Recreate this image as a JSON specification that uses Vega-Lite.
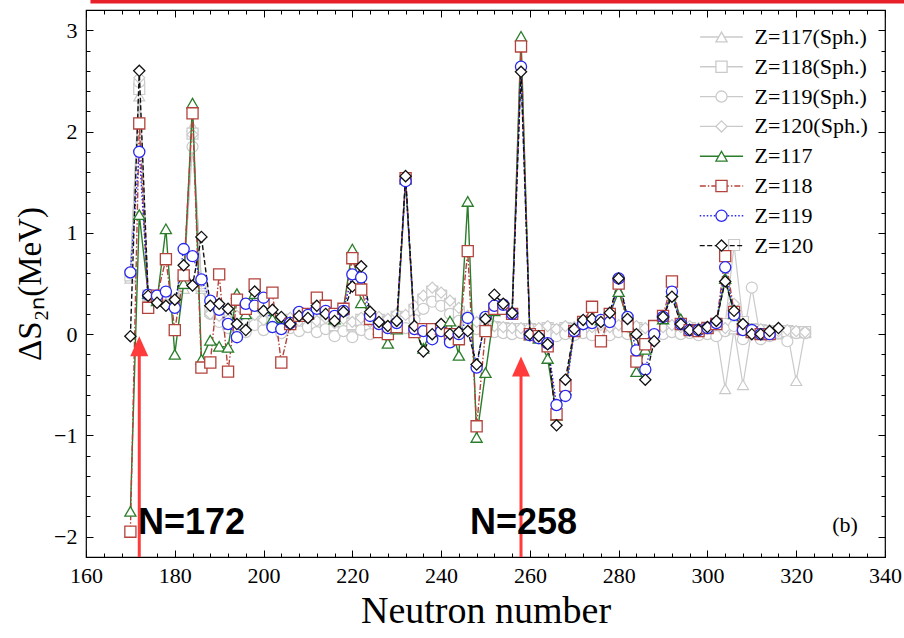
{
  "$schema": "https://vega.github.io/schema/vega-lite/v6.json",
  "width": 799,
  "height": 547,
  "autosize": {"type": "none"},
  "padding": {"left": 86, "top": 10, "right": 19, "bottom": 81},
  "background": "white",
  "config": {
    "view": {"stroke": "black", "strokeWidth": 1.2},
    "font": "Liberation Serif",
    "axis": {"domain": false, "grid": false, "tickColor": "black", "labelColor": "black", "titleColor": "black", "labelFont": "Liberation Serif", "titleFont": "Liberation Serif", "titleFontWeight": "normal", "labelFlush": false, "labelOverlap": false, "tickWidth": 1}
  },
  "datasets": {
    "series": [
      {"N":170,"s117":0.55,"s118":0.58,"s119":0.60,"s120":0.62,"z117":-1.75,"z118":-1.95,"z119":0.61,"z120":-0.02},
      {"N":172,"s117":2.35,"s118":2.42,"s119":2.49,"s120":2.53,"z117":1.18,"z118":2.08,"z119":1.80,"z120":2.60},
      {"N":174,"s117":0.40,"s118":0.38,"s119":0.37,"s120":0.36,"z117":0.40,"z118":0.26,"z119":0.39,"z120":0.38},
      {"N":176,"s117":0.35,"s118":0.33,"s119":0.32,"s120":0.31,"z117":0.33,"z118":0.38,"z119":0.38,"z120":0.31},
      {"N":178,"s117":0.36,"s118":0.34,"s119":0.32,"s120":0.30,"z117":1.04,"z118":0.74,"z119":0.42,"z120":0.28},
      {"N":180,"s117":0.30,"s118":0.30,"s119":0.29,"s120":0.30,"z117":-0.20,"z118":0.04,"z119":0.26,"z120":0.34},
      {"N":182,"s117":0.45,"s118":0.50,"s119":0.55,"s120":0.60,"z117":0.50,"z118":0.58,"z119":0.84,"z120":0.68},
      {"N":184,"s117":2.05,"s118":1.98,"s119":1.85,"s120":1.97,"z117":2.28,"z118":2.18,"z119":0.77,"z120":0.48},
      {"N":186,"s117":0.45,"s118":0.48,"s119":0.50,"s120":0.52,"z117":-0.25,"z118":-0.33,"z119":0.54,"z120":0.96},
      {"N":188,"s117":0.25,"s118":0.23,"s119":0.20,"s120":0.20,"z117":-0.06,"z118":-0.28,"z119":0.33,"z120":0.28},
      {"N":190,"s117":0.15,"s118":0.16,"s119":0.12,"s120":0.18,"z117":-0.12,"z118":0.59,"z119":0.24,"z120":0.30},
      {"N":192,"s117":0.10,"s118":0.12,"s119":0.06,"s120":0.14,"z117":-0.13,"z118":-0.37,"z119":0.10,"z120":0.25},
      {"N":194,"s117":0.14,"s118":0.16,"s119":0.08,"s120":0.18,"z117":0.40,"z118":0.34,"z119":-0.03,"z120":0.10},
      {"N":196,"s117":0.08,"s118":0.10,"s119":0.02,"s120":0.12,"z117":0.20,"z118":0.25,"z119":0.30,"z120":0.04},
      {"N":198,"s117":0.15,"s118":0.17,"s119":0.09,"s120":0.19,"z117":0.40,"z118":0.49,"z119":0.28,"z120":0.42},
      {"N":200,"s117":0.10,"s118":0.12,"s119":0.04,"s120":0.14,"z117":0.30,"z118":0.30,"z119":0.36,"z120":0.23},
      {"N":202,"s117":0.13,"s118":0.15,"s119":0.07,"s120":0.17,"z117":0.15,"z118":0.41,"z119":0.07,"z120":0.24},
      {"N":204,"s117":0.07,"s118":0.09,"s119":0.01,"s120":0.11,"z117":0.10,"z118":-0.28,"z119":0.05,"z120":0.17},
      {"N":206,"s117":0.12,"s118":0.14,"s119":0.06,"s120":0.16,"z117":0.12,"z118":0.10,"z119":0.11,"z120":0.10},
      {"N":208,"s117":0.09,"s118":0.11,"s119":0.03,"s120":0.13,"z117":0.20,"z118":0.18,"z119":0.22,"z120":0.18},
      {"N":210,"s117":0.13,"s118":0.15,"s119":0.07,"s120":0.17,"z117":0.20,"z118":0.20,"z119":0.19,"z120":0.16},
      {"N":212,"s117":0.09,"s118":0.11,"s119":0.02,"s120":0.13,"z117":0.28,"z118":0.36,"z119":0.25,"z120":0.28},
      {"N":214,"s117":0.12,"s118":0.14,"s119":0.05,"s120":0.16,"z117":0.25,"z118":0.28,"z119":0.23,"z120":0.20},
      {"N":216,"s117":0.07,"s118":0.09,"s119":-0.02,"s120":0.11,"z117":0.15,"z118":0.20,"z119":0.18,"z120":0.13},
      {"N":218,"s117":0.11,"s118":0.13,"s119":0.03,"s120":0.15,"z117":0.25,"z118":0.25,"z119":0.23,"z120":0.22},
      {"N":220,"s117":0.08,"s118":0.10,"s119":-0.03,"s120":0.12,"z117":0.84,"z118":0.75,"z119":0.59,"z120":0.47},
      {"N":222,"s117":0.12,"s118":0.14,"s119":0.04,"s120":0.16,"z117":0.31,"z118":0.44,"z119":0.56,"z120":0.67},
      {"N":224,"s117":0.08,"s118":0.10,"s119":0.00,"s120":0.12,"z117":0.20,"z118":0.15,"z119":0.18,"z120":0.22},
      {"N":226,"s117":0.12,"s118":0.14,"s119":0.05,"s120":0.17,"z117":0.05,"z118":0.02,"z119":0.10,"z120":0.12},
      {"N":228,"s117":0.09,"s118":0.12,"s119":0.03,"s120":0.15,"z117":-0.09,"z118":0.00,"z119":0.06,"z120":0.08},
      {"N":230,"s117":0.14,"s118":0.17,"s119":0.08,"s120":0.20,"z117":0.05,"z118":0.07,"z119":0.11,"z120":0.13},
      {"N":232,"s117":0.12,"s118":0.15,"s119":0.06,"s120":0.19,"z117":1.53,"z118":1.54,"z119":1.51,"z120":1.56},
      {"N":234,"s117":0.20,"s118":0.24,"s119":0.14,"s120":0.28,"z117":0.05,"z118":0.02,"z119":0.05,"z120":0.08},
      {"N":236,"s117":0.30,"s118":0.34,"s119":0.25,"s120":0.38,"z117":-0.14,"z118":0.05,"z119":0.03,"z120":-0.17},
      {"N":238,"s117":0.38,"s118":0.42,"s119":0.32,"s120":0.46,"z117":0.05,"z118":0.05,"z119":-0.05,"z120":0.00},
      {"N":240,"s117":0.32,"s118":0.38,"s119":0.28,"s120":0.41,"z117":0.05,"z118":0.05,"z119":0.03,"z120":0.10},
      {"N":242,"s117":0.24,"s118":0.30,"s119":0.20,"s120":0.33,"z117":0.13,"z118":0.00,"z119":-0.08,"z120":0.00},
      {"N":244,"s117":0.16,"s118":0.22,"s119":0.13,"s120":0.26,"z117":-0.21,"z118":-0.05,"z119":0.00,"z120":0.02},
      {"N":246,"s117":0.10,"s118":0.15,"s119":0.08,"s120":0.18,"z117":1.31,"z118":0.82,"z119":0.16,"z120":0.03},
      {"N":248,"s117":0.08,"s118":0.11,"s119":0.05,"s120":0.12,"z117":-1.02,"z118":-0.91,"z119":-0.33,"z120":-0.30},
      {"N":250,"s117":0.06,"s118":0.09,"s119":0.03,"s120":0.10,"z117":-0.38,"z118":0.03,"z119":0.17,"z120":0.15},
      {"N":252,"s117":0.05,"s118":0.07,"s119":0.02,"s120":0.08,"z117":0.23,"z118":0.25,"z119":0.28,"z120":0.39},
      {"N":254,"s117":0.04,"s118":0.06,"s119":0.01,"s120":0.07,"z117":0.25,"z118":0.25,"z119":0.29,"z120":0.30},
      {"N":256,"s117":0.03,"s118":0.05,"s119":0.00,"s120":0.06,"z117":0.22,"z118":0.20,"z119":0.20,"z120":0.21},
      {"N":258,"s117":0.04,"s118":0.05,"s119":0.01,"s120":0.06,"z117":2.94,"z118":2.84,"z119":2.64,"z120":2.59},
      {"N":260,"s117":0.03,"s118":0.05,"s119":-0.01,"s120":0.07,"z117":-0.01,"z118":0.00,"z119":-0.01,"z120":0.00},
      {"N":262,"s117":0.02,"s118":0.04,"s119":-0.02,"s120":0.06,"z117":-0.04,"z118":-0.02,"z119":-0.04,"z120":-0.02},
      {"N":264,"s117":0.04,"s118":0.06,"s119":0.00,"s120":0.08,"z117":-0.24,"z118":-0.12,"z119":-0.09,"z120":-0.10},
      {"N":266,"s117":0.02,"s118":0.04,"s119":-0.02,"s120":0.05,"z117":-0.80,"z118":-0.79,"z119":-0.70,"z120":-0.90},
      {"N":268,"s117":0.04,"s118":0.06,"s119":0.00,"s120":0.08,"z117":-0.55,"z118":-0.51,"z119":-0.61,"z120":-0.45},
      {"N":270,"s117":0.03,"s118":0.05,"s119":-0.01,"s120":0.07,"z117":0.03,"z118":0.03,"z119":0.03,"z120":0.05},
      {"N":272,"s117":0.05,"s118":0.07,"s119":0.01,"s120":0.09,"z117":0.12,"z118":0.12,"z119":0.10,"z120":0.14},
      {"N":274,"s117":0.03,"s118":0.05,"s119":-0.01,"s120":0.07,"z117":0.15,"z118":0.27,"z119":0.11,"z120":0.15},
      {"N":276,"s117":0.05,"s118":0.07,"s119":0.01,"s120":0.09,"z117":0.14,"z118":-0.07,"z119":0.14,"z120":0.12},
      {"N":278,"s117":0.03,"s118":0.05,"s119":-0.01,"s120":0.07,"z117":0.20,"z118":0.20,"z119":0.12,"z120":0.21},
      {"N":280,"s117":0.05,"s118":0.07,"s119":0.02,"s120":0.09,"z117":0.42,"z118":0.50,"z119":0.55,"z120":0.55},
      {"N":282,"s117":0.03,"s118":0.05,"s119":0.00,"s120":0.07,"z117":0.15,"z118":0.08,"z119":0.17,"z120":0.15},
      {"N":284,"s117":0.04,"s118":0.06,"s119":0.01,"s120":0.08,"z117":-0.37,"z118":-0.27,"z119":-0.16,"z120":0.00},
      {"N":286,"s117":0.02,"s118":0.04,"s119":-0.01,"s120":0.06,"z117":-0.15,"z118":-0.10,"z119":-0.35,"z120":-0.45},
      {"N":288,"s117":0.04,"s118":0.06,"s119":0.01,"s120":0.08,"z117":0.05,"z118":0.08,"z119":0.00,"z120":-0.07},
      {"N":290,"s117":0.03,"s118":0.05,"s119":0.00,"s120":0.07,"z117":0.15,"z118":0.18,"z119":0.17,"z120":0.17},
      {"N":292,"s117":0.05,"s118":0.07,"s119":0.02,"s120":0.09,"z117":0.42,"z118":0.52,"z119":0.42,"z120":0.37},
      {"N":294,"s117":0.03,"s118":0.05,"s119":0.00,"s120":0.07,"z117":0.15,"z118":0.10,"z119":0.10,"z120":0.10},
      {"N":296,"s117":0.04,"s118":0.06,"s119":0.01,"s120":0.08,"z117":0.05,"z118":0.04,"z119":0.04,"z120":0.04},
      {"N":298,"s117":0.02,"s118":0.04,"s119":-0.01,"s120":0.06,"z117":0.05,"z118":0.03,"z119":0.04,"z120":0.04},
      {"N":300,"s117":0.03,"s118":0.05,"s119":0.00,"s120":0.07,"z117":0.06,"z118":0.06,"z119":0.06,"z120":0.07},
      {"N":302,"s117":0.02,"s118":0.08,"s119":-0.02,"s120":0.10,"z117":0.12,"z118":0.10,"z119":0.11,"z120":0.13},
      {"N":304,"s117":-0.54,"s118":0.10,"s119":0.03,"s120":0.06,"z117":0.55,"z118":0.77,"z119":0.66,"z120":0.52},
      {"N":306,"s117":0.05,"s118":0.88,"s119":0.08,"s120":0.30,"z117":0.20,"z118":0.22,"z119":0.19,"z120":0.23},
      {"N":308,"s117":-0.50,"s118":0.12,"s119":-0.05,"s120":0.05,"z117":0.05,"z118":0.05,"z119":0.04,"z120":0.10},
      {"N":310,"s117":0.05,"s118":0.05,"s119":0.46,"s120":0.04,"z117":0.02,"z118":0.02,"z119":0.04,"z120":0.00},
      {"N":312,"s117":0.02,"s118":0.04,"s119":-0.05,"s120":0.05,"z117":0.00,"z118":0.00,"z119":0.00,"z120":0.00},
      {"N":314,"s117":0.01,"s118":0.03,"s119":-0.02,"s120":0.04,"z117":0.00,"z118":0.00,"z119":0.00,"z120":0.03},
      {"N":316,"s117":0.00,"s118":0.02,"s119":0.01,"s120":0.03,"z120":0.06},
      {"N":318,"s117":0.02,"s118":0.03,"s119":-0.07,"s120":0.04},
      {"N":320,"s117":-0.46,"s118":0.02,"s119":0.01,"s120":0.03},
      {"N":322,"s117":0.02,"s118":0.02,"s119":0.01,"s120":0.02}
    ],
    "arrows": [
      {"N": 172, "base": -2.2, "tip": -0.02, "neck": -0.19},
      {"N": 258, "base": -2.2, "tip": -0.22, "neck": -0.39}
    ],
    "notes": [
      {"N": 171.7, "v": -1.97, "t": "N=172"},
      {"N": 246.5, "v": -1.97, "t": "N=258"}
    ],
    "panel": [{"N": 331, "v": -1.88, "t": "(b)"}],
    "band": [{"N": 161, "N2": 350, "v": 3.285}]
  },
  "layer": [
    {
      "data": {"name": "series"},
      "transform": [
        {"fold": ["s117", "s118", "s119", "s120"], "as": ["key", "v"]},
        {"filter": {"field": "v", "valid": true}}
      ],
      "mark": {"type": "line", "strokeWidth": 1.2},
      "encoding": {
        "x": {"field": "N", "type": "quantitative", "scale": {"domain": [160, 340], "nice": false, "zero": false},
          "axis": {"orient": "bottom", "values": [160,180,200,220,240,260,280,300,320,340], "tickSize": -7, "labelPadding": 15, "labelFontSize": 22, "title": "Neutron number", "titleFontSize": 38, "titlePadding": 6}},
        "y": {"field": "v", "type": "quantitative", "scale": {"domain": [-2.2, 3.2], "nice": false, "zero": false},
          "axis": {"orient": "left", "values": [-2,-1,0,1,2,3], "tickSize": -7, "labelPadding": 16, "labelFontSize": 22, "title": "ΔS₂ₙ(MeV)", "titleFontSize": 33, "titlePadding": 6}},
        "color": {"field": "key", "type": "nominal",
          "scale": {"domain": ["s117","s118","s119","s120","z117","z118","z119","z120"], "range": ["#cacaca","#cacaca","#cacaca","#cacaca","#2a7d2a","#b4433d","#2828f0","#111111"]},
          "legend": {"orient": "none", "legendX": 624.5, "legendY": 16, "title": null, "padding": 0, "labelFont": "Liberation Serif", "labelFontSize": 22, "labelColor": "black", "rowPadding": 7.8, "symbolType": "M-3.9,0H3.9", "symbolSize": 100, "symbolStrokeWidth": 1.4, "labelOffset": 22, "labelExpr": "'Z=' + substring(datum.label, 1) + (substring(datum.label, 0, 1) == 's' ? '(Sph.)' : '')"}},
        "strokeDash": {"field": "key", "type": "nominal",
          "scale": {"domain": ["s117","s118","s119","s120","z117","z118","z119","z120"], "range": [[1,0],[1,0],[1,0],[1,0],[1,0],[6,2,1.5,2],[1.5,2],[5,2.5]]},
          "legend": {"orient": "none", "legendX": 624.5, "legendY": 16, "title": null, "padding": 0, "labelFont": "Liberation Serif", "labelFontSize": 22, "labelColor": "black", "rowPadding": 7.8, "symbolType": "M-3.9,0H3.9", "symbolSize": 100, "symbolStrokeWidth": 1.4, "labelOffset": 22, "labelExpr": "'Z=' + substring(datum.label, 1) + (substring(datum.label, 0, 1) == 's' ? '(Sph.)' : '')"}}
      }
    },
    {
      "data": {"name": "series"},
      "transform": [
        {"fold": ["s117", "s118", "s119", "s120"], "as": ["key", "v"]},
        {"filter": {"field": "v", "valid": true}}
      ],
      "mark": {"type": "point", "filled": false, "fill": "white", "strokeWidth": 1.2, "opacity": 1},
      "encoding": {
        "x": {"field": "N", "type": "quantitative", "scale": {"domain": [160, 340], "nice": false, "zero": false},
          "axis": {"orient": "bottom", "values": [164,168,172,176,184,188,192,196,204,208,212,216,224,228,232,236,244,248,252,256,264,268,272,276,284,288,292,296,304,308,312,316,324,328,332,336], "tickSize": -4, "labels": false, "title": null}},
        "y": {"field": "v", "type": "quantitative", "scale": {"domain": [-2.2, 3.2], "nice": false, "zero": false},
          "axis": {"orient": "left", "values": [-2.2,-1.8,-1.6,-1.4,-1.2,-0.8,-0.6,-0.4,-0.2,0.2,0.4,0.6,0.8,1.2,1.4,1.6,1.8,2.2,2.4,2.6,2.8,3.2], "tickSize": -4, "labels": false, "title": null}},
        "stroke": {"field": "key", "type": "nominal",
          "scale": {"domain": ["s117","s118","s119","s120","z117","z118","z119","z120"], "range": ["#cacaca","#cacaca","#cacaca","#cacaca","#2a7d2a","#b4433d","#2828f0","#111111"]}, "legend": null},
        "size": {"field": "key", "type": "nominal",
          "scale": {"domain": ["s117","s118","s119","s120","z117","z118","z119","z120"], "range": [120,125,115,185,120,125,115,185]}, "legend": null},
        "shape": {"field": "key", "type": "nominal",
          "scale": {"range": ["triangle-up","square","circle","diamond","triangle-up","square","circle","diamond"]},
          "legend": {"orient": "none", "legendX": 624.5, "legendY": 16, "title": null, "padding": 0, "labelFont": "Liberation Serif", "labelFontSize": 22, "rowPadding": 7.8, "symbolSize": 125, "symbolStrokeWidth": 1.3, "symbolFillColor": "white", "labelOffset": 22,
            "labelExpr": "' '",
            "encoding": {"symbols": {"stroke": {"value": {"expr": "scale('stroke', datum.value)"}}}}}}
      }
    },
    {
      "data": {"name": "series"},
      "transform": [
        {"fold": ["z117", "z118", "z119", "z120"], "as": ["key", "v"]},
        {"filter": {"field": "v", "valid": true}}
      ],
      "mark": {"type": "line", "strokeWidth": 1.4},
      "encoding": {
        "x": {"field": "N", "type": "quantitative", "scale": {"domain": [160, 340], "nice": false, "zero": false},
          "axis": {"orient": "top", "values": [160,180,200,220,240,260,280,300,320,340], "tickSize": -7, "labels": false, "title": null}},
        "y": {"field": "v", "type": "quantitative", "scale": {"domain": [-2.2, 3.2], "nice": false, "zero": false},
          "axis": {"orient": "right", "values": [-2,-1,0,1,2,3], "tickSize": -7, "labels": false, "title": null}},
        "color": {"field": "key", "type": "nominal",
          "scale": {"domain": ["s117","s118","s119","s120","z117","z118","z119","z120"], "range": ["#cacaca","#cacaca","#cacaca","#cacaca","#2a7d2a","#b4433d","#2828f0","#111111"]}},
        "strokeDash": {"field": "key", "type": "nominal",
          "scale": {"domain": ["s117","s118","s119","s120","z117","z118","z119","z120"], "range": [[1,0],[1,0],[1,0],[1,0],[1,0],[6,2,1.5,2],[1.5,2],[5,2.5]]}}
      }
    },
    {
      "data": {"name": "series"},
      "transform": [
        {"fold": ["z117", "z118", "z119", "z120"], "as": ["key", "v"]},
        {"filter": {"field": "v", "valid": true}}
      ],
      "mark": {"type": "point", "filled": false, "fill": "white", "strokeWidth": 1.3, "opacity": 1},
      "encoding": {
        "x": {"field": "N", "type": "quantitative", "scale": {"domain": [160, 340], "nice": false, "zero": false},
          "axis": {"orient": "top", "values": [164,168,172,176,184,188,192,196,204,208,212,216,224,228,232,236,244,248,252,256,264,268,272,276,284,288,292,296,304,308,312,316,324,328,332,336], "tickSize": -4, "labels": false, "title": null}},
        "y": {"field": "v", "type": "quantitative", "scale": {"domain": [-2.2, 3.2], "nice": false, "zero": false},
          "axis": {"orient": "right", "values": [-2.2,-1.8,-1.6,-1.4,-1.2,-0.8,-0.6,-0.4,-0.2,0.2,0.4,0.6,0.8,1.2,1.4,1.6,1.8,2.2,2.4,2.6,2.8,3.2], "tickSize": -4, "labels": false, "title": null}},
        "stroke": {"field": "key", "type": "nominal",
          "scale": {"domain": ["s117","s118","s119","s120","z117","z118","z119","z120"], "range": ["#cacaca","#cacaca","#cacaca","#cacaca","#2a7d2a","#b4433d","#2828f0","#111111"]}, "legend": null},
        "size": {"field": "key", "type": "nominal",
          "scale": {"domain": ["s117","s118","s119","s120","z117","z118","z119","z120"], "range": [120,125,115,185,120,125,115,185]}, "legend": null},
        "shape": {"field": "key", "type": "nominal",
          "scale": {"range": ["triangle-up","square","circle","diamond","triangle-up","square","circle","diamond"]}}
      }
    },
    {
      "data": {"name": "arrows"},
      "mark": {"type": "rule", "color": "#ff3b3b", "strokeWidth": 3},
      "encoding": {
        "x": {"field": "N", "type": "quantitative", "scale": {"domain": [160, 340], "nice": false, "zero": false}, "axis": null},
        "y": {"field": "base", "type": "quantitative", "scale": {"domain": [-2.2, 3.2], "nice": false, "zero": false}, "axis": null},
        "y2": {"field": "neck"}
      }
    },
    {
      "data": {"name": "arrows"},
      "mark": {"type": "point", "shape": "M0,0L0.9,2L-0.9,2Z", "size": 400, "filled": true, "color": "#ff3b3b", "opacity": 1, "strokeWidth": 0},
      "encoding": {
        "x": {"field": "N", "type": "quantitative", "scale": {"domain": [160, 340], "nice": false, "zero": false}, "axis": null},
        "y": {"field": "tip", "type": "quantitative", "scale": {"domain": [-2.2, 3.2], "nice": false, "zero": false}, "axis": null}
      }
    },
    {
      "data": {"name": "notes"},
      "mark": {"type": "text", "font": "Liberation Sans", "fontWeight": "bold", "fontSize": 36, "align": "left", "baseline": "alphabetic", "color": "black"},
      "encoding": {
        "x": {"field": "N", "type": "quantitative", "scale": {"domain": [160, 340], "nice": false, "zero": false}, "axis": null},
        "y": {"field": "v", "type": "quantitative", "scale": {"domain": [-2.2, 3.2], "nice": false, "zero": false}, "axis": null},
        "text": {"field": "t", "type": "nominal"}
      }
    },
    {
      "data": {"name": "panel"},
      "mark": {"type": "text", "font": "Liberation Serif", "fontSize": 22, "align": "center", "baseline": "middle", "color": "black"},
      "encoding": {
        "x": {"field": "N", "type": "quantitative", "scale": {"domain": [160, 340], "nice": false, "zero": false}, "axis": null},
        "y": {"field": "v", "type": "quantitative", "scale": {"domain": [-2.2, 3.2], "nice": false, "zero": false}, "axis": null},
        "text": {"field": "t", "type": "nominal"}
      }
    },
    {
      "data": {"name": "band"},
      "mark": {"type": "rule", "color": "#e8202a", "strokeWidth": 4, "clip": false},
      "encoding": {
        "x": {"field": "N", "type": "quantitative", "scale": {"domain": [160, 340], "nice": false, "zero": false}, "axis": null},
        "x2": {"field": "N2"},
        "y": {"field": "v", "type": "quantitative", "scale": {"domain": [-2.2, 3.2], "nice": false, "zero": false}, "axis": null}
      }
    }
  ],
  "resolve": {"axis": {"x": "independent", "y": "independent"}}
}
